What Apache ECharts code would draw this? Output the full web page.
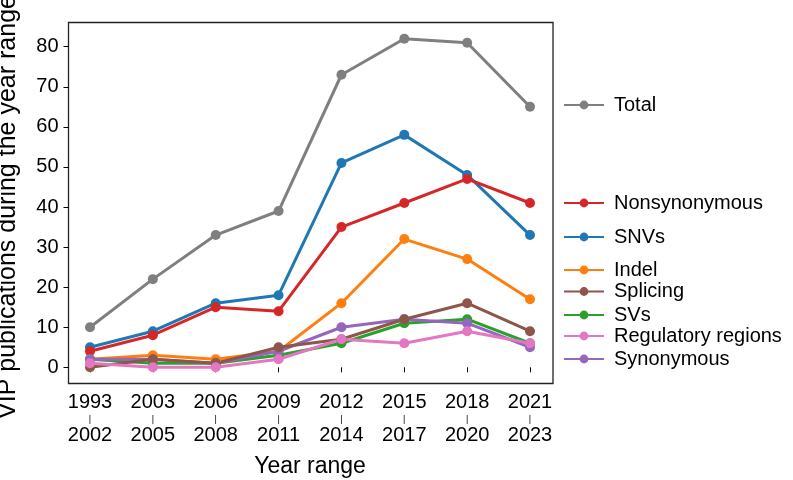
<!DOCTYPE html>
<html>
<head>
<meta charset="utf-8">
<script src="https://cdn.jsdelivr.net/npm/echarts@6/dist/echarts.min.js"></script>
<style>
  html, body { margin: 0; padding: 0; background: #fff; }
  #chart { width: 793px; height: 480px; }
</style>
</head>
<body>
<div id="chart"></div>
<script>
// year ranges on the x axis
var rangeStart = ['1993', '2003', '2006', '2009', '2012', '2015', '2018', '2021'];
var rangeEnd = ['2002', '2005', '2008', '2011', '2014', '2017', '2020', '2023'];

// publications per range
var total = [10, 22, 33, 39, 73, 82, 81, 65];
var snvs = [5, 9, 16, 18, 51, 58, 48, 33];
var nonsynonymous = [4, 8, 15, 14, 35, 41, 47, 41];
var indel = [2, 3, 2, 4, 16, 32, 27, 17];
var svs = [2, 1, 1, 3, 6, 11, 12, 6];
var synonymous = [2, 2, 1, 4, 10, 12, 11, 5];
var splicing = [0, 2, 1, 5, 7, 12, 16, 9];
var regulatory = [1, 0, 0, 2, 7, 6, 9, 6];

var yTicks = { min: 0, max: 80, interval: 10 };

var font = "'Liberation Sans', Arial, sans-serif";

window.onload = function () {
    var myChart = echarts.init(document.getElementById('chart'));

    var categories = rangeStart.map(function (s, i) { return s + '-' + rangeEnd[i]; });

    // draw order matters for overlaps (later = on top)
    var seriesList = [
        { name: 'Total', data: total, color: '#7f7f7f' },
        { name: 'SNVs', data: snvs, color: '#1f77b4' },
        { name: 'Nonsynonymous', data: nonsynonymous, color: '#d62728' },
        { name: 'Indel', data: indel, color: '#ff7f0e' },
        { name: 'SVs', data: svs, color: '#2ca02c' },
        { name: 'Synonymous', data: synonymous, color: '#9467bd' },
        { name: 'Splicing', data: splicing, color: '#8c564b' },
        { name: 'Regulatory regions', data: regulatory, color: '#e377c2' }
    ];

    // legend entries sit beside the plot, each at its own height
    var legendOrder = ['Total', 'Nonsynonymous', 'SNVs', 'Indel', 'Splicing', 'SVs', 'Regulatory regions', 'Synonymous'];
    var legendY = [105, 203, 237, 270, 291.5, 315, 336, 359];

    var legends = legendOrder.map(function (name, i) {
        return {
            data: [name],
            left: 563,
            top: legendY[i] - 11,
            orient: 'vertical',
            padding: 0,
            itemWidth: 40,
            itemHeight: 11,
            selectedMode: false,
            textStyle: { fontFamily: font, fontSize: 20, color: '#000', padding: [0, 0, 0, 5], lineHeight: 22 }
        };
    });

    var option = {
        animation: false,
        grid: [
            // data area
            { left: 90, right: 263, top: 46.7, bottom: 112.7, containLabel: false, outerBoundsMode: 'none' },
            // frame
            { left: 68.5, top: 22.5, width: 484.5, height: 361, show: true, borderColor: '#222', borderWidth: 1.3,
              backgroundColor: 'transparent', containLabel: false, outerBoundsMode: 'none' }
        ],
        legend: legends,
        xAxis: [{
            gridIndex: 0,
            type: 'category',
            data: categories,
            boundaryGap: false,
            offset: 16,
            name: 'Year range',
            nameLocation: 'middle',
            nameGap: 72,
            nameMoveOverlap: false,
            nameTextStyle: { fontFamily: font, fontSize: 23, color: '#000' },
            axisLine: { show: false },
            axisTick: { show: true, length: 5, alignWithLabel: true, lineStyle: { color: '#000', width: 1 } },
            axisLabel: {
                margin: 11,
                interval: 0,
                formatter: function (v, i) {
                    return '{a|' + rangeStart[i] + '}\n{b||}\n{a|' + rangeEnd[i] + '}';
                },
                rich: {
                    a: { fontFamily: font, fontSize: 20, color: '#000', lineHeight: 16.5 },
                    b: { fontFamily: font, fontSize: 9, color: '#000', lineHeight: 16.5 }
                }
            },
            splitLine: { show: false }
        }, {
            gridIndex: 1, type: 'value', show: false, min: 0, max: 1
        }],
        yAxis: [{
            gridIndex: 0,
            type: 'value',
            min: yTicks.min,
            max: yTicks.max,
            interval: yTicks.interval,
            offset: 21.5,
            name: 'VIP publications during the year range',
            nameLocation: 'middle',
            nameRotate: 90,
            nameGap: 48,
            nameMoveOverlap: false,
            nameTextStyle: { fontFamily: font, fontSize: 25, color: '#000' },
            axisLine: { show: false },
            axisTick: { show: true, length: 5, lineStyle: { color: '#000', width: 1 } },
            axisLabel: { margin: 10, fontFamily: font, fontSize: 20, color: '#000' },
            splitLine: { show: false }
        }, {
            gridIndex: 1, type: 'value', show: false, min: 0, max: 1
        }],
        series: seriesList.map(function (s) {
            return {
                name: s.name,
                type: 'line',
                xAxisIndex: 0,
                yAxisIndex: 0,
                data: s.data,
                clip: false,
                symbol: 'circle',
                symbolSize: 10,
                showSymbol: true,
                color: s.color,
                lineStyle: { width: 3, color: s.color },
                itemStyle: { color: s.color }
            };
        })
    };

    myChart.setOption(option);
    window.addEventListener('resize', function () {
        myChart.resize();
    });
};
</script>
</body>
</html>
